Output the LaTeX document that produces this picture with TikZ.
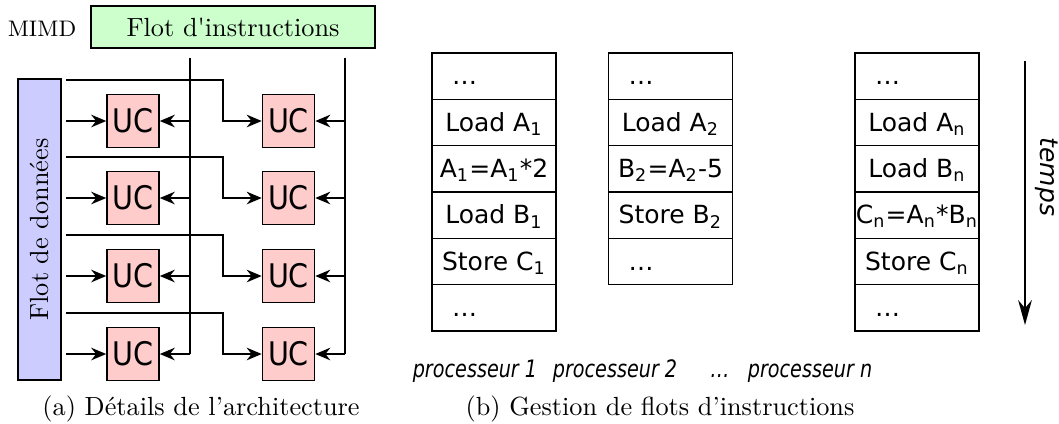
\documentclass[tikz,border=0pt]{standalone}
\usepackage{fontspec}
\usetikzlibrary{arrows.meta,positioning}
\newfontfamily\dejavu{DejaVu Sans}
\newfontfamily\dejavucond[FakeStretch=0.88]{DejaVu Sans}
\newfontfamily\dejavunarrow[FakeStretch=0.8]{DejaVu Sans}

\tikzset{
  uc/.style={draw, line width=0.6pt, fill=red!20, minimum width=20.8pt, minimum height=21.2pt, inner sep=0pt, font=\dejavucond\fontsize{13}{15}\selectfont},
  cell/.style={draw, line width=0.6pt, minimum width=49.6pt, minimum height=18.53pt, inner sep=0pt, text height=7.5pt, text depth=0.5pt, font=\dejavu\fontsize{10}{12}\selectfont},
  dotcell/.style={cell, text width=33.6pt, inner xsep=8pt, align=left},
  wire/.style={line width=0.9pt},
  feed/.style={wire, -{Stealth[length=6pt,width=5pt]}},
  proc/.style={anchor=base, font=\dejavunarrow\itshape\fontsize{9.6}{11}\selectfont},
  caption/.style={anchor=base, font=\fontsize{10.5}{12}\selectfont},
}

\begin{document}
\begin{tikzpicture}[x=0.4pt, y=-0.4pt, node distance=18.53pt]
\useasboundingbox (0,0) rectangle (1059,423);
\node[font=\fontsize{9}{11}\selectfont] (mimd) at (42,28.5) {MIMD};
\node[draw, line width=0.6pt, fill=green!20, minimum width=113.6pt, minimum height=16.8pt, inner sep=0pt, font=\fontsize{10.5}{12}\selectfont] (instr) at (233,27) {Flot d\textquotesingle instructions};
\node[draw, line width=0.6pt, fill=blue!20, rotate=90, minimum width=120.4pt, minimum height=17.2pt, inner sep=0pt, font=\fontsize{10.5}{12}\selectfont] (data) at (39.5,229.5) {Flot de données};
\node[uc] (uc11) at (133,121) {UC};
\node[uc] (uc12) at (288.5,121) {UC};
\node[uc] (uc21) at (133,198) {UC};
\node[uc] (uc22) at (288.5,198) {UC};
\node[uc] (uc31) at (133,276) {UC};
\node[uc] (uc32) at (288.5,276) {UC};
\node[uc] (uc41) at (133,354) {UC};
\node[uc] (uc42) at (288.5,354) {UC};
\coordinate (bus1) at (190,58);
\coordinate (bus2) at (345,58);
\coordinate (src) at (66,0);
\coordinate (br1) at (66,80);
\coordinate (br2) at (66,157);
\coordinate (br3) at (66,235);
\coordinate (br4) at (66,313);
\draw[wire] (bus1) -- (bus1 |- uc41);
\draw[wire] (bus2) -- (bus2 |- uc42);
\draw[feed] (bus1 |- uc11) -- (uc11.east);
\draw[feed] (bus1 |- uc21) -- (uc21.east);
\draw[feed] (bus1 |- uc31) -- (uc31.east);
\draw[feed] (bus1 |- uc41) -- (uc41.east);
\draw[feed] (bus2 |- uc12) -- (uc12.east);
\draw[feed] (bus2 |- uc22) -- (uc22.east);
\draw[feed] (bus2 |- uc32) -- (uc32.east);
\draw[feed] (bus2 |- uc42) -- (uc42.east);
\draw[feed] (src |- uc11) -- (uc11.west);
\draw[feed] (src |- uc21) -- (uc21.west);
\draw[feed] (src |- uc31) -- (uc31.west);
\draw[feed] (src |- uc41) -- (uc41.west);
\draw[feed] (br1) -| ([xshift=-15.6pt]uc12.west) -- (uc12.west);
\draw[feed] (br2) -| ([xshift=-15.6pt]uc22.west) -- (uc22.west);
\draw[feed] (br3) -| ([xshift=-15.6pt]uc32.west) -- (uc32.west);
\draw[feed] (br4) -| ([xshift=-15.6pt]uc42.west) -- (uc42.west);
\node[caption] (capa) at (201,415) {(a) Détails de l'architecture};

\node[dotcell] (p1a) at (494,76.2) {…};
\node[cell, below of=p1a] (p1b) {Load A\textsubscript{1}};
\node[cell, below of=p1b] (p1c) {A\textsubscript{1}=A\textsubscript{1}*2};
\node[cell, below of=p1c] (p1d) {Load B\textsubscript{1}};
\node[cell, below of=p1d] (p1e) {Store C\textsubscript{1}};
\node[dotcell, below of=p1e] (p1f) {…};
\node[dotcell] (p2a) at (670.5,76.2) {…};
\node[cell, below of=p2a] (p2b) {Load A\textsubscript{2}};
\node[cell, below of=p2b] (p2c) {B\textsubscript{2}=A\textsubscript{2}-5};
\node[cell, below of=p2c] (p2d) {Store B\textsubscript{2}};
\node[dotcell, below of=p2d] (p2e) {…};
\node[dotcell] (pna) at (917,76.2) {…};
\node[cell, below of=pna] (pnb) {Load A\textsubscript{n}};
\node[cell, below of=pnb] (pnc) {Load B\textsubscript{n}};
\node[cell, below of=pnc] (pnd) {C\textsubscript{n}=A\textsubscript{n}*B\textsubscript{n}};
\node[cell, below of=pnd] (pne) {Store C\textsubscript{n}};
\node[dotcell, below of=pne] (pnf) {…};
\coordinate (t0) at (1025,61);
\coordinate (t1) at (1025,325);
\draw[line width=0.5pt, -{Stealth[length=10pt,width=5.5pt]}] (t0) -- (t1);
\node[rotate=-90, font=\dejavu\itshape\fontsize{10}{12}\selectfont] (temps) at (1047,177) {temps};
\node[proc] (lab1) at (475,377) {processeur 1};
\node[proc] (lab2) at (615,377) {processeur 2};
\node[proc] (labd) at (720,377) {…};
\node[proc] (labn) at (810,377) {processeur n};
\node[caption] (capb) at (660,415) {(b) Gestion de flots d'instructions};
\end{tikzpicture}
\end{document}
